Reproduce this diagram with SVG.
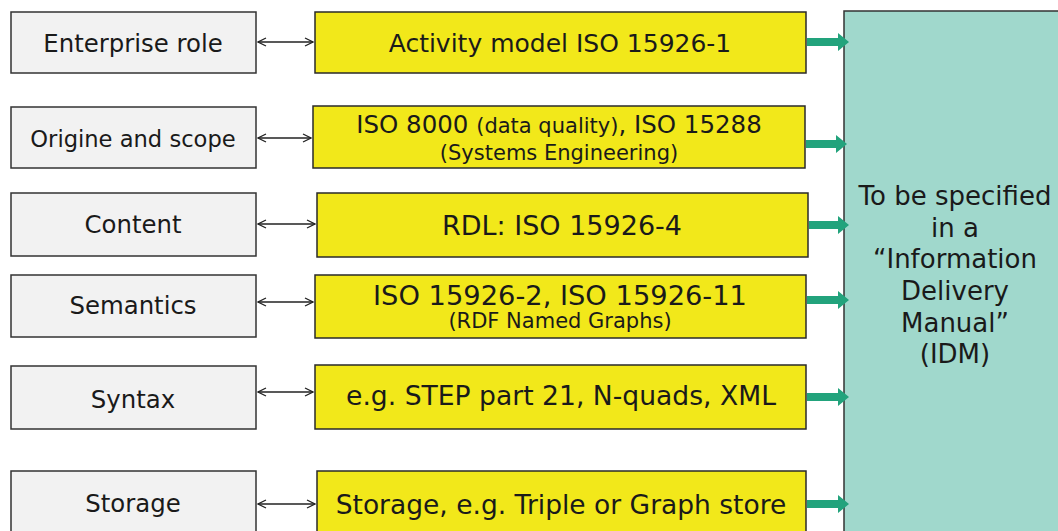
<svg xmlns="http://www.w3.org/2000/svg" width="1058" height="531" viewBox="0 0 1058 531">
<style>
text{font-family:"DejaVu Sans","Verdana",sans-serif;fill:#1a1a1a;text-anchor:middle}
.l{fill:#f2f2f2;stroke:#333;stroke-width:1.5}
.y{fill:#f2e81a;stroke:#2a2a2a;stroke-width:1.5}
.lt{font-size:24.4px}
.tt{font-size:26px}
.dbl{stroke:#222;stroke-width:1.3;fill:none;marker-start:url(#oa);marker-end:url(#oa)}
.ga{fill:#22a37c}
</style>
<defs>
<marker id="oa" viewBox="0 0 10 10" refX="9" refY="5" markerWidth="10" markerHeight="10" markerUnits="userSpaceOnUse" orient="auto-start-reverse">
<path d="M1,1 L9,5 L1,9" fill="none" stroke="#222" stroke-width="1.3"/>
</marker>
</defs>
<g id="idm">
<rect x="844" y="11" width="220" height="530" fill="#a0d8cc" stroke="#333" stroke-width="1.5"/>
<text class="tt" x="955" y="205">To be specified</text>
<text class="tt" x="955" y="237">in a</text>
<text class="tt" x="955" y="268">“Information</text>
<text class="tt" x="955" y="300">Delivery</text>
<text class="tt" x="955" y="332">Manual”</text>
<text class="tt" x="955" y="363">(IDM)</text>
</g>
<g id="l1"><rect class="l" x="11" y="12" width="245" height="61"/><text class="lt" x="133" y="52">Enterprise role</text></g>
<g id="l2"><rect class="l" x="11" y="107" width="245" height="61"/><text x="133" y="147" font-size="22.6">Origine and scope</text></g>
<g id="l3"><rect class="l" x="11" y="193" width="245" height="63"/><text class="lt" x="133" y="233">Content</text></g>
<g id="l4"><rect class="l" x="11" y="275" width="245" height="62"/><text class="lt" x="133" y="314">Semantics</text></g>
<g id="l5"><rect class="l" x="11" y="366" width="245" height="63"/><text class="lt" x="133" y="408">Syntax</text></g>
<g id="l6"><rect class="l" x="11" y="471" width="245" height="70"/><text class="lt" x="133" y="512">Storage</text></g>
<g id="y1"><rect class="y" x="315" y="12" width="491" height="61"/><text x="560" y="52" font-size="25">Activity model ISO 15926-1</text></g>
<g id="y2"><rect class="y" x="313" y="106" width="492" height="62"/><text x="559" y="133" font-size="24.5">ISO 8000 <tspan font-size="21">(data quality)</tspan>, ISO 15288</text><text x="559" y="160" font-size="21">(Systems Engineering)</text></g>
<g id="y3"><rect class="y" x="317" y="193" width="491" height="64"/><text x="562" y="235" font-size="27">RDL: ISO 15926-4</text></g>
<g id="y4"><rect class="y" x="315" y="275" width="491" height="63"/><text x="560" y="305" font-size="27.3">ISO 15926-2, ISO 15926-11</text><text x="560" y="328" font-size="21">(RDF Named Graphs)</text></g>
<g id="y5"><rect class="y" x="315" y="365" width="491" height="64"/><text x="561" y="405" font-size="26.6">e.g. STEP part 21, N-quads, XML</text></g>
<g id="y6"><rect class="y" x="317" y="471" width="489" height="70"/><text x="561" y="514" font-size="26.5">Storage, e.g. Triple or Graph store</text></g>
<g id="connectors">
<line class="dbl" x1="258" y1="42" x2="313" y2="42"/>
<line class="dbl" x1="258" y1="138" x2="311" y2="138"/>
<line class="dbl" x1="258" y1="224" x2="315" y2="224"/>
<line class="dbl" x1="258" y1="302" x2="313" y2="302"/>
<line class="dbl" x1="258" y1="392" x2="313" y2="392"/>
<line class="dbl" x1="258" y1="504" x2="315" y2="504"/>
<path class="ga" d="M807,38 L838,38 L838,33 L849,42 L838,51 L838,46 L807,46 Z"/>
<path class="ga" d="M806,140 L836,140 L836,135 L847,144 L836,153 L836,148 L806,148 Z"/>
<path class="ga" d="M809,221 L838,221 L838,216 L849,225 L838,234 L838,229 L809,229 Z"/>
<path class="ga" d="M807,296 L838,296 L838,291 L849,300 L838,309 L838,304 L807,304 Z"/>
<path class="ga" d="M807,393 L838,393 L838,388 L849,397 L838,406 L838,401 L807,401 Z"/>
<path class="ga" d="M807,500 L838,500 L838,495 L849,504 L838,513 L838,508 L807,508 Z"/>
</g>
</svg>
